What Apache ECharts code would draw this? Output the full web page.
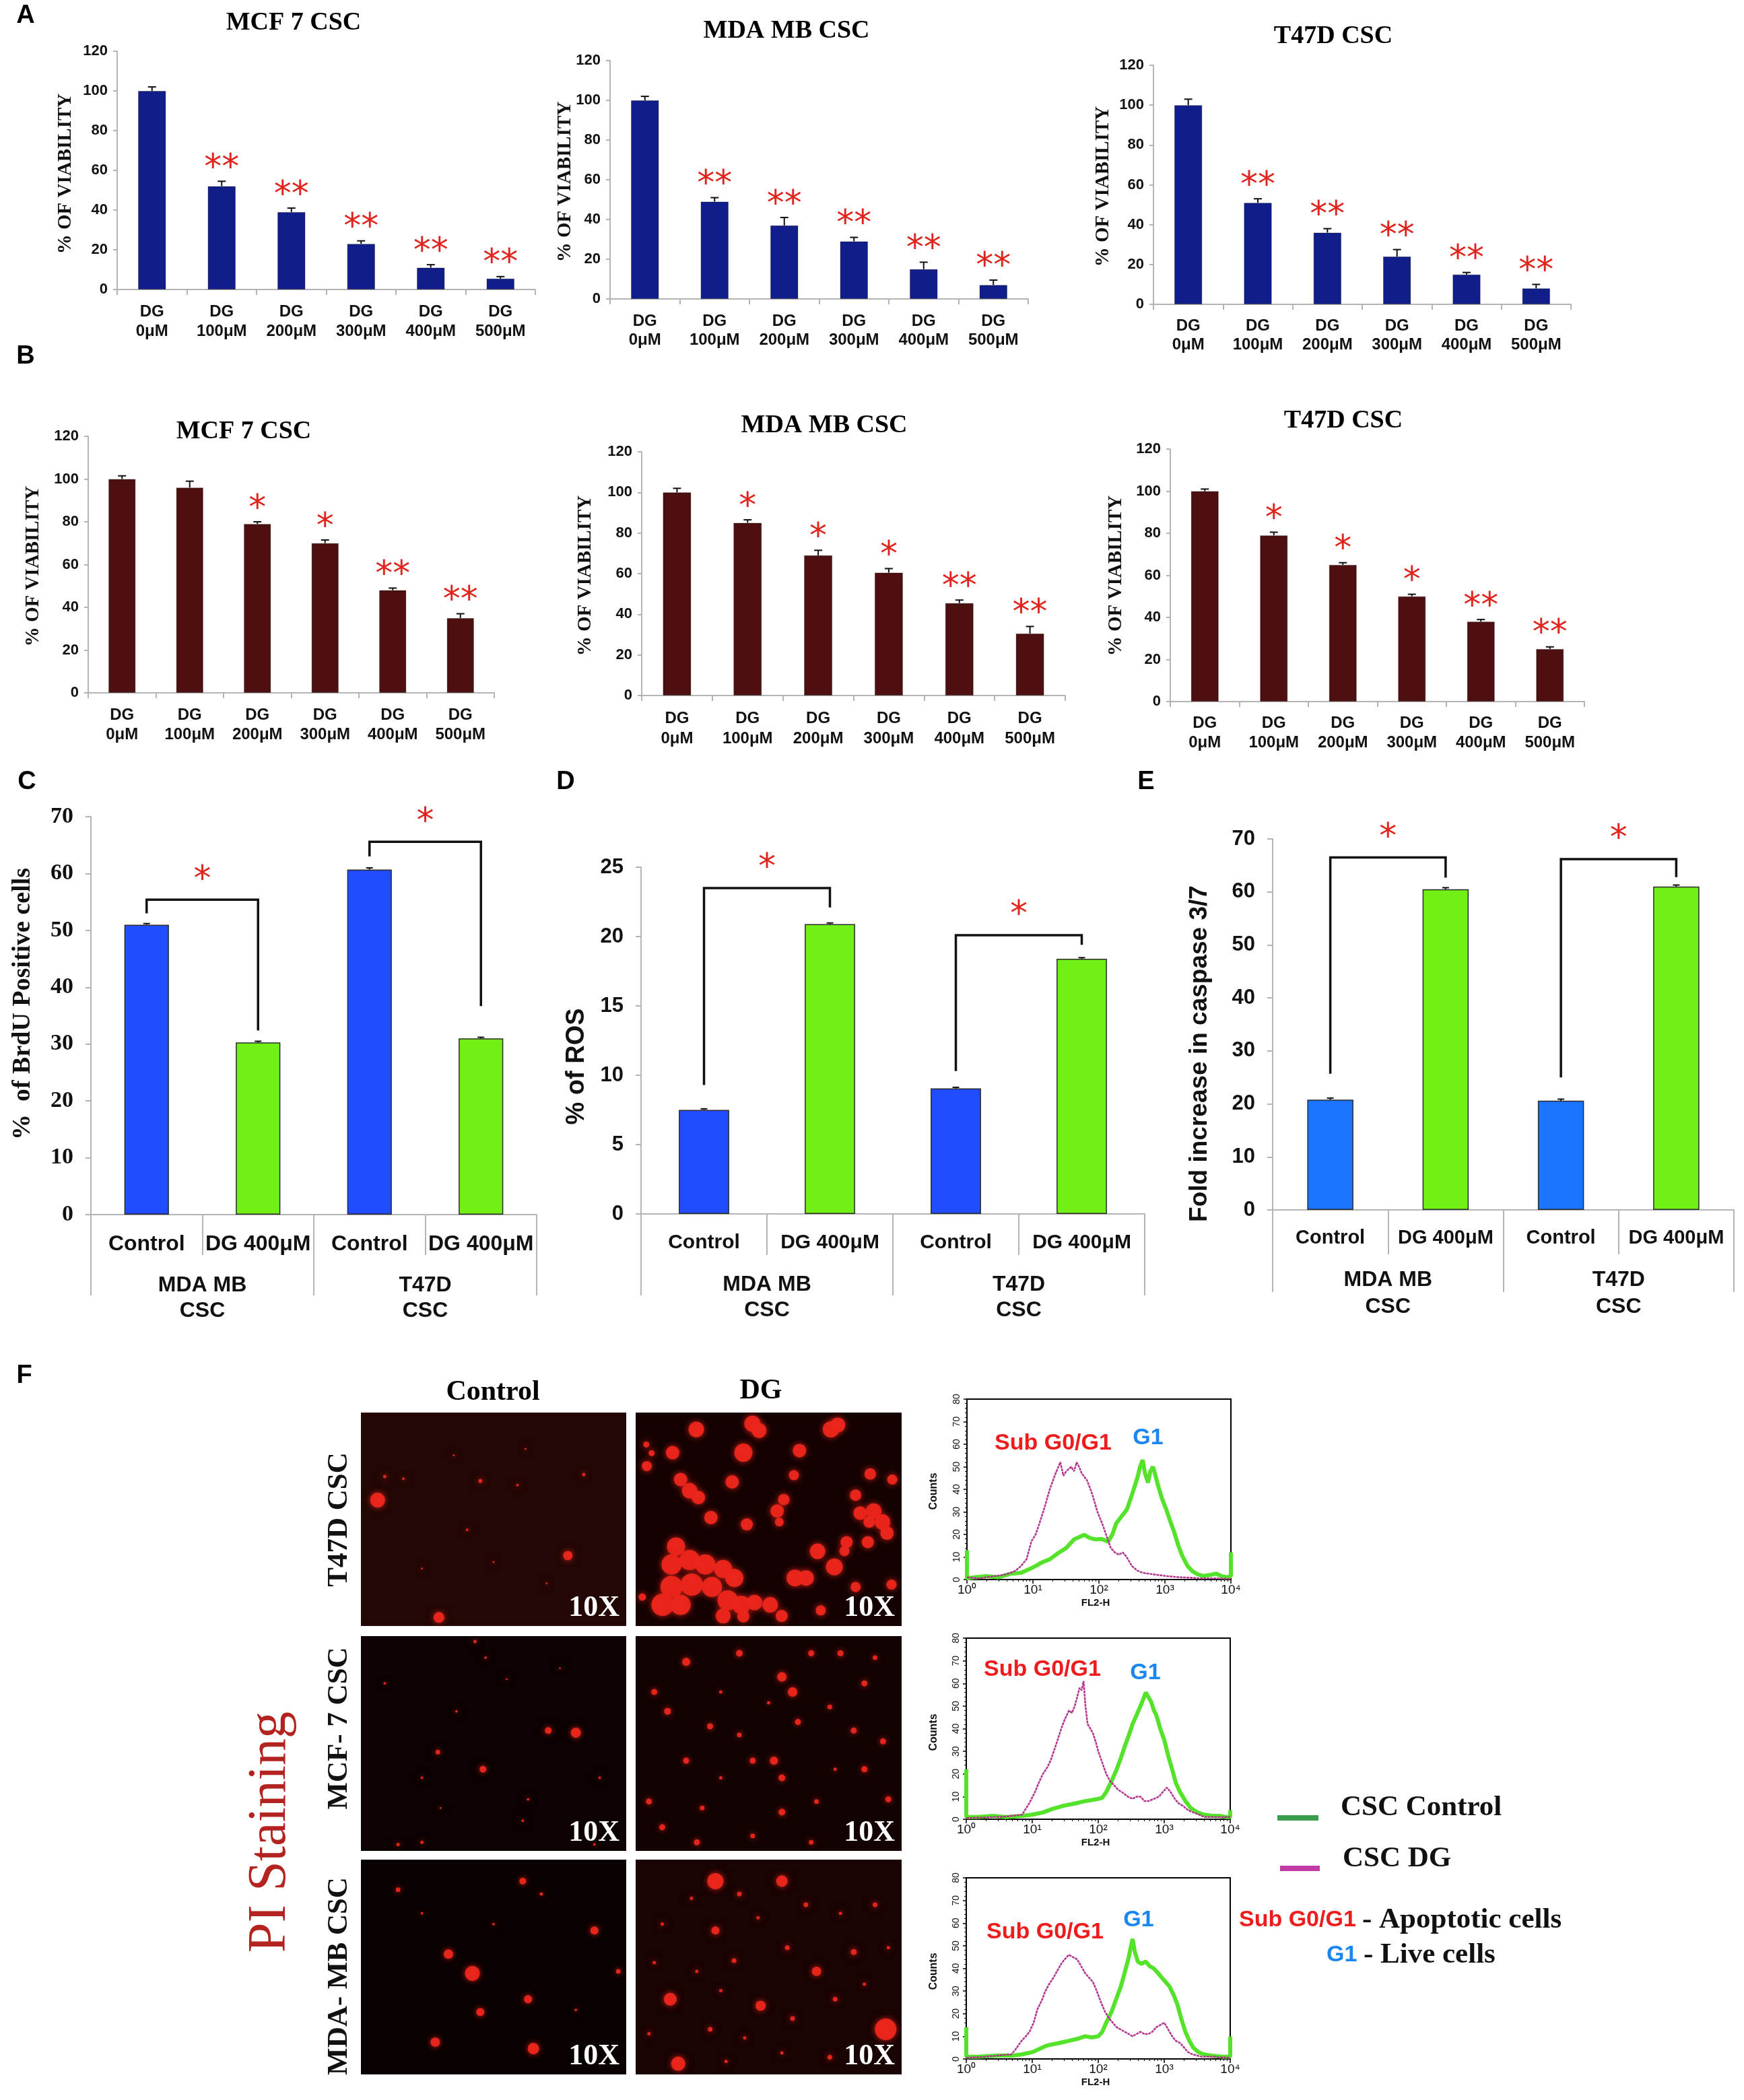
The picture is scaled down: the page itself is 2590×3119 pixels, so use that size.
<!DOCTYPE html>
<html><head><meta charset="utf-8">
<script src="https://cdn.jsdelivr.net/npm/echarts@6/dist/echarts.min.js"></script>
<style>html,body{margin:0;padding:0;background:#fff}#c{width:2590px;height:3119px}</style>
</head><body><div id="c"></div>
<script>
// ---------------- DATA ----------------
const doseCats = ['DG\n0μM','DG\n100μM','DG\n200μM','DG\n300μM','DG\n400μM','DG\n500μM'];

const aMcf7 = [100,52,39,23,11,5.5];
const aMcf7Err = [2,2.5,2,1.5,1.5,1];
const aMda = [100,49,37,29,15,7];
const aMdaErr = [2,2,4,2,3.5,2.5];
const aT47d = [100,51,36,24,15,8];
const aT47dErr = [3,2,2,3.5,1,2];
const aStars = ['','**','**','**','**','**'];

const bMcf7 = [100,96,79,70,48,35];
const bMcf7Err = [1.5,3,1,1.5,1,2];
const bMda = [100,85,69,60.5,45.5,30.5];
const bMdaErr = [2,1.5,2.5,2,1.5,3.5];
const bT47d = [100,79,65,50,38,25];
const bT47dErr = [1,1.5,1,1,1,1];
const bStarsMcf7 = ['','','*','*','**','**'];
const bStarsMda = ['','*','*','*','**','**'];
const bStarsT47d = ['','*','*','*','**','**'];

const trtCats = ['Control','DG 400μM','Control','DG 400μM'];
const lineCats = ['MDA MB\nCSC','T47D\nCSC'];
const cBrdU = [51,30.3,60.7,31];
const cBrdUErr = [0.2,0.2,0.3,0.2];
const dRos = [7.5,20.9,9.05,18.4];
const dRosErr = [0.08,0.08,0.08,0.08];
const eCasp = [20.8,60.5,20.6,61];
const eCaspErr = [0.3,0.3,0.3,0.3];
// brackets: [fromIndex, toIndex, leftEnd, topLevel, rightEnd]
const cBrackets = [[0,1,53,55.4,32.4],[2,3,63,65.6,36.7]];
const dBrackets = [[0,1,9.3,23.5,22.1],[2,3,10.3,20.1,19.4]];
const eBrackets = [[0,1,25.7,66.5,62.7],[2,3,25,66.2,62.8]];

// flow cytometry histograms [FL2-H, counts]
const t47dCtrlHist = [[1,13],[1,0.5],[1.3,1],[2,1.5],[3,1],[4.6,2.6],[6.6,3],[8.8,4.6],[11,6],[13.9,7.7],[18,9],[24,11.7],[32,14],[42,17.8],[52,19],[60,19.8],[72,18.5],[88,17.8],[110,18],[138,16.8],[160,20],[182,24.8],[220,28],[265,31],[320,38],[382,45],[420,50],[460,53],[500,47],[555,43],[600,48],[660,50],[720,46],[800,41],[900,36],[1050,31],[1200,26],[1390,20.8],[1600,15],[1820,10.7],[2200,6],[2630,3.6],[3200,2.2],[3800,1.6],[4800,2],[6000,2.6],[7200,1.5],[8700,1],[10000,1.5],[10000,12]];
const t47dDgHist = [[1,1],[1.5,0.5],[2.6,1.5],[3.5,2],[4.6,3],[5.5,4],[6.6,6],[8,9],[9.5,17],[11,20],[12.6,25],[15,32],[18,40],[22,47],[26,52],[29,46],[32,48],[38,50],[42,48],[46,52],[50,50],[55,47],[66,44],[79,38],[95,30],[115,24],[135,18],[151,14],[175,12],[200,11],[230,12],[263,10],[316,6],[380,4],[457,3],[600,2.5],[794,2],[1100,1.5],[1660,1],[2500,0.8],[3470,0.5],[6000,0.5],[10000,0.3]];
const mcfCtrlHist = [[1,22],[1,1],[1.5,1],[2.5,1.5],[4,1],[7,1.5],[10,2],[14.5,3],[20,4.5],[30,6],[45,7],[63,8],[80,8.5],[100,9],[115,9.5],[132,12],[160,17],[190,22],[220,27],[251,32],[290,37],[331,42],[380,46],[437,50],[480,53],[525,56],[575,54],[631,52],[700,48],[759,46],[870,40],[1000,35],[1150,28],[1318,22],[1500,16],[1738,12],[2100,8],[2512,5],[3200,3],[3981,2],[5500,1.5],[6918,1.5],[8500,1],[10000,1],[10000,4]];
const mcfDgHist = [[1,0.5],[2,0.8],[4,1.2],[7,2],[9,7],[11,12],[12.5,16],[14.5,20],[17,23],[19,26],[23,33],[27.5,40],[31,44],[36,48],[40,47],[44,50],[48,54],[52,58],[56,57],[60,61],[64,50],[69,42],[76,40],[83,38],[92,34],[100,30],[115,25],[132,20],[150,17],[174,15],[200,13],[229,12],[280,10],[331,9],[380,10],[437,10],[500,8],[575,8],[700,9],[832,10],[950,12],[1096,14],[1250,12],[1445,9],[1650,7],[1905,6],[2300,4],[2754,3],[3400,2],[3981,1],[6000,1],[10000,1]];
const mdaCtrlHist = [[1,14],[1,1],[1.5,1],[3,1.5],[5,1.5],[7,2],[10,3],[13,4.5],[17,6],[25,7],[36,8],[50,9],[63,10],[80,9.5],[100,10],[115,12],[132,16],[160,21],[190,27],[220,32],[251,38],[290,45],[331,53],[360,47],[398,43],[450,42],[525,43],[600,41],[692,40],[800,38],[912,36],[1050,34],[1202,32],[1400,28],[1585,24],[1800,18],[2089,12],[2400,8],[2754,5],[3300,3],[3981,2],[5000,1.5],[7600,1],[9500,1],[10000,1],[10000,10]];
const mdaDgHist = [[1,0.5],[2,1],[3,1.5],[4.8,2],[5.5,4],[6.9,8],[8,10],[9.1,12],[10.5,16],[12,22],[14,26],[15.8,30],[18,33],[21,36],[24,39],[27.5,42],[31,44],[36,46],[41,45],[48,44],[55,41],[63,38],[72,36],[83,34],[95,30],[110,25],[126,21],[145,18],[166,16],[190,14],[220,13],[251,12],[290,11],[331,10],[380,11],[437,12],[500,11],[575,11],[660,12],[759,14],[870,15],[1000,16],[1150,13],[1318,10],[1500,8],[1738,7],[2000,5],[2290,3],[2700,2],[3630,1],[5000,1],[10000,0.5]];

// PI staining micrographs: stained nuclei [x%, y%, diameter]
const t47dCtrlSpots = [[6.3,41,22],[78,67,14],[29.4,96,16],[45,32,6],[9,30,5],[16,31,4],[84,29,5],[59,34,4],[40,55,4],[23,73,3],[62,17,3],[35,20,3],[70,80,3],[50,70,3]];
const t47dDgSpots = [[22.8,7.9,23],[43.9,5.2,24],[46.4,8.4,22],[73.4,7.9,24],[76,5.8,22],[13.9,18.8,20],[40.5,18.8,27],[61.6,17.8,20],[4.2,25.1,15],[36.3,32.5,20],[59.5,29.3,15],[88.2,28.8,17],[96.5,31.4,15],[16.9,31.4,20],[20.3,36.6,23],[23.6,39.8,20],[28.3,49.2,20],[41.8,52.4,18],[53.2,46.1,20],[55.7,40.8,17],[54,51.3,13],[82.7,38.7,17],[84.4,47.1,20],[89.5,46.1,23],[92.8,51.3,23],[94.5,56.5,20],[87.8,51.3,17],[87.3,60.7,18],[79.3,60.7,18],[78.5,64.9,15],[68.4,65,23],[74.7,72.3,25],[59.9,77.5,25],[64.1,77.5,23],[82.7,81.7,15],[96.2,80.6,15],[69.6,92.7,15],[15.2,62.8,27],[13.5,71.2,30],[20.3,69.1,30],[26.2,71.2,30],[32.9,73.3,27],[37.1,77.5,27],[13.5,81.7,33],[21.1,80.6,33],[28.7,81.7,30],[10.1,90.1,33],[16.9,90.1,30],[34.6,88,30],[39.7,90.1,27],[44.7,89,23],[50.6,90.1,23],[54.9,95.3,18],[32.9,95.3,22],[40.5,95.5,18],[2.5,86.4,11],[4,15,9],[6,19,9]];
const mcfCtrlSpots = [[70.6,44,10],[81,45,15],[46,62,10],[29,54,7],[43,2.5,5],[47,10,4],[14,97,5],[23,96,5],[88,97,4],[61,86,4],[36,35,4],[9,22,4],[63,76,4],[90,66,4],[23,66,4],[55,20,3],[75,15,3],[30,80,3]];
const mcfDgSpots = [[19,12,12],[39,8,10],[55,19,14],[59,26,14],[66,8,9],[77,8,9],[86,22,9],[7,26,9],[12,35,10],[28,42,9],[39,46,7],[44,58,9],[52,58,12],[55,66,10],[19,58,9],[5,77,9],[25,80,7],[61,40,9],[73,33,7],[82,44,9],[93,49,9],[86,62,9],[95,76,9],[68,77,7],[55,82,10],[10,89,9],[23,96,9],[44,93,7],[32,66,5],[75,62,5],[50,31,5],[32,26,5],[90,10,7],[66,96,7]];
const mdaCtrlSpots = [[33,44,14],[42,53,22],[61,10,10],[88,33,12],[45,71,12],[65,88,17],[28,85,14],[63,65,12],[14,14,7],[68,16,5],[97,52,7],[23,25,4],[81,70,4],[50,30,4]];
const mdaDgSpots = [[30,10,24],[55,10,17],[13,65,19],[47,68,15],[30,33,12],[94,79,32],[16,95,21],[68,52,14],[10,30,5],[21,18,5],[39,16,7],[46,27,5],[64,21,7],[77,25,5],[90,21,7],[95,41,5],[82,43,9],[57,41,7],[37,47,7],[23,52,5],[7,48,5],[32,61,5],[59,74,7],[75,65,7],[86,58,5],[28,79,7],[41,83,5],[5,81,5],[55,90,5],[73,92,7],[34,94,5]];

// ---------------- LAYOUT / HELPERS ----------------
const SERIF = '"Liberation Serif","DejaVu Serif",serif';
const SANS = '"Liberation Sans",Arial,sans-serif';
const AXIS_GRAY = '#b4b4b4';
const STAR_RED = '#e0231c';
const STAR_FONT = '"DejaVu Sans",sans-serif';

const grids = [], xAxes = [], yAxes = [], series = [], graphics = [];

function txt(x, y, text, font, fill, align, rot, valign) {
  graphics.push({type:'text', x:x, y:y, rotation: rot||0, silent:true, z:100,
    style:{text:text, font:font, fill:fill||'#000', align:align||'center', verticalAlign:valign||'middle',
      textAlign:align||'center', textVerticalAlign:valign||'middle'}});
}

function errSeries(xi, yi, vals, errs, cap) {
  return {type:'custom', xAxisIndex:xi, yAxisIndex:yi, z:5, silent:true,
    data: vals.map((v,i)=>[i, v, v+errs[i]]),
    renderItem:(p,api)=>{
      const a = api.coord([api.value(0), api.value(1)]);
      const b = api.coord([api.value(0), api.value(2)]);
      return {type:'group', children:[
        {type:'line', shape:{x1:a[0],y1:a[1],x2:b[0],y2:b[1]}, style:{stroke:'#111', lineWidth:2}},
        {type:'line', shape:{x1:b[0]-cap,y1:b[1],x2:b[0]+cap,y2:b[1]}, style:{stroke:'#111', lineWidth:2}}
      ]};
    }};
}

function starSeries(xi, yi, vals, errs, stars, gap, size) {
  return {type:'custom', xAxisIndex:xi, yAxisIndex:yi, z:6, silent:true,
    data: vals.map((v,i)=>[i, v+errs[i]]),
    renderItem:(p,api)=>{
      const s = stars[p.dataIndex];
      if (!s) return null;
      const b = api.coord([api.value(0), api.value(1)]);
      return {type:'text', x:b[0], y:b[1]-gap, style:{text:s, font:size+'px '+STAR_FONT, fill:STAR_RED,
        align:'center', verticalAlign:'middle', textAlign:'center', textVerticalAlign:'middle'}};
    }};
}

function dosePanel(box, vals, errs, stars, color, labelMargin, lineH) {
  const gi = grids.push({left:box.l, top:box.t, width:box.w, height:box.h}) - 1;
  const xi = xAxes.push({gridIndex:gi, type:'category', data:doseCats,
    axisLine:{lineStyle:{color:AXIS_GRAY, width:2}},
    axisTick:{show:true, length:8, lineStyle:{color:AXIS_GRAY, width:2}},
    axisLabel:{interval:0, color:'#111', fontFamily:SANS, fontWeight:'bold', fontSize:24, lineHeight:lineH, margin:labelMargin}}) - 1;
  const yi = yAxes.push({gridIndex:gi, type:'value', min:0, max:120, interval:20,
    splitLine:{show:false},
    axisLine:{show:true, lineStyle:{color:AXIS_GRAY, width:2}},
    axisTick:{show:true, length:6, lineStyle:{color:AXIS_GRAY, width:2}},
    axisLabel:{color:'#111', fontFamily:SANS, fontWeight:'bold', fontSize:22, margin:14}}) - 1;
  series.push({type:'bar', xAxisIndex:xi, yAxisIndex:yi, data:vals, barWidth:'40%',
    itemStyle:{color:color, borderColor:'rgba(0,0,0,0.35)', borderWidth:1}});
  series.push(errSeries(xi, yi, vals, errs, 6));
  series.push(starSeries(xi, yi, vals, errs, stars, 18, 52));
}

function groupPanel(box, vals, errs, colors, brackets, o) {
  const gi = grids.push({left:box.l, top:box.t, width:box.w, height:box.h}) - 1;
  const xi = xAxes.push({gridIndex:gi, type:'category', data:trtCats, position:'bottom',
    axisLine:{lineStyle:{color:AXIS_GRAY, width:2}},
    axisTick:{show:true, length:o.shortTick, lineStyle:{color:AXIS_GRAY, width:2}},
    axisLabel:{interval:0, color:'#111', fontFamily:SANS, fontWeight:'bold', fontSize:o.catSize, margin:o.catMargin}}) - 1;
  xAxes.push({gridIndex:gi, type:'category', data:lineCats, position:'bottom', offset:0,
    axisLine:{show:false},
    axisTick:{show:true, length:o.longTick, lineStyle:{color:AXIS_GRAY, width:2}},
    axisLabel:{interval:0, color:'#111', fontFamily:SANS, fontWeight:'bold', fontSize:o.grpSize, lineHeight:o.grpLine, margin:o.grpMargin}});
  const yi = yAxes.push({gridIndex:gi, type:'value', min:0, max:o.yMax, interval:o.yInt,
    splitLine:{show:false},
    axisLine:{show:true, lineStyle:{color:AXIS_GRAY, width:2}},
    axisTick:{show:true, length:8, lineStyle:{color:AXIS_GRAY, width:2}},
    axisLabel:{color:'#111', fontFamily:o.tickFamily, fontWeight:'bold', fontSize:o.tickSize, margin:26}}) - 1;
  series.push({type:'bar', xAxisIndex:xi, yAxisIndex:yi, barWidth:'40%',
    data: vals.map((v,i)=>({value:v, itemStyle:{color:colors[i]}})),
    itemStyle:{borderColor:'#2b2b2b', borderWidth:1.5}});
  series.push(errSeries(xi, yi, vals, errs, 5));
  series.push({type:'custom', xAxisIndex:xi, yAxisIndex:yi, z:6, silent:true,
    data: brackets,
    renderItem:(p,api)=>{
      const f = api.value(0), t = api.value(1);
      const p1 = api.coord([f, api.value(2)]), p2 = api.coord([f, api.value(3)]);
      const p3 = api.coord([t, api.value(3)]), p4 = api.coord([t, api.value(4)]);
      return {type:'group', children:[
        {type:'polyline', shape:{points:[p1,p2,p3,p4]}, style:{stroke:'#111', lineWidth:3.5, fill:null}},
        {type:'text', x:(p2[0]+p3[0])/2, y:p2[1]-28, style:{text:'*', font:'52px '+STAR_FONT, fill:STAR_RED,
          align:'center', verticalAlign:'middle', textAlign:'center', textVerticalAlign:'middle'}}
      ]};
    }});
}

const SUP = {0:'⁰',1:'¹',2:'²',3:'³',4:'⁴'};
function histPanel(box, ctrl, dg) {
  const gi = grids.push({left:box.l, top:box.t, width:box.w, height:box.h, show:true, borderColor:'#000', borderWidth:2, backgroundColor:'rgba(0,0,0,0)'}) - 1;
  const xi = xAxes.push({gridIndex:gi, type:'log', logBase:10, min:1, max:10000,
    axisLine:{show:true, onZero:false, lineStyle:{color:'#000', width:2}},
    axisTick:{show:true, length:6, inside:false, lineStyle:{color:'#000', width:1.5}},
    minorTick:{show:true, splitNumber:9, length:3, lineStyle:{color:'#000'}},
    splitLine:{show:false},
    axisLabel:{color:'#111', fontFamily:SANS, fontSize:19, margin:6,
      formatter:(v)=>'10'+SUP[Math.round(Math.log10(v))]}}) - 1;
  const yi = yAxes.push({gridIndex:gi, type:'value', min:0, max:80, interval:10,
    splitLine:{show:false},
    axisLine:{show:true, lineStyle:{color:'#000', width:2}},
    axisTick:{show:true, length:5, lineStyle:{color:'#000', width:1.5}},
    minorTick:{show:true, splitNumber:5, length:3, lineStyle:{color:'#000'}},
    axisLabel:{color:'#111', fontFamily:SANS, fontSize:14, rotate:90, margin:8}}) - 1;
  series.push({type:'line', xAxisIndex:xi, yAxisIndex:yi, data:ctrl, showSymbol:false, silent:true,
    lineStyle:{color:'#55e22a', width:6}, z:3});
  series.push({type:'line', xAxisIndex:xi, yAxisIndex:yi, data:dg, showSymbol:false, silent:true,
    lineStyle:{color:'#b3338f', width:2.5, type:[4,1]}, z:4});
}

function imagePanel(box, spots, bg, blur) {
  const gi = grids.push({left:box.l, top:box.t, width:box.w, height:box.h, show:true, backgroundColor:bg, borderWidth:0}) - 1;
  const xi = xAxes.push({gridIndex:gi, type:'value', min:0, max:100, show:false}) - 1;
  const yi = yAxes.push({gridIndex:gi, type:'value', min:0, max:100, inverse:true, show:false}) - 1;
  series.push({type:'scatter', xAxisIndex:xi, yAxisIndex:yi, data:spots, silent:true, clip:true,
    symbolSize:(d)=>d[2], itemStyle:{color:'#ec261c', opacity:0.95, shadowBlur:blur, shadowColor:'rgba(236,38,28,0.9)'}});
}

// ---------------- PANELS ----------------
// A
dosePanel({l:174,t:76,w:621,h:354}, aMcf7, aMcf7Err, aStars, '#111d8a', 19, 29);
dosePanel({l:906,t:90,w:621,h:354}, aMda, aMdaErr, aStars, '#111d8a', 19, 28);
dosePanel({l:1713,t:97,w:620,h:355}, aT47d, aT47dErr, aStars, '#111d8a', 18, 28);
// B
dosePanel({l:131,t:648,w:603,h:381}, bMcf7, bMcf7Err, bStarsMcf7, '#4d0f0f', 19, 29);
dosePanel({l:953,t:671,w:629,h:362}, bMda, bMdaErr, bStarsMda, '#4d0f0f', 19, 30);
dosePanel({l:1738,t:667,w:615,h:375}, bT47d, bT47dErr, bStarsT47d, '#4d0f0f', 18, 29);
// C, D, E
const BLUE = '#1f4dff', BLUE2 = '#1a74ff', GREEN = '#70f014';
groupPanel({l:135,t:1213,w:662,h:591}, cBrdU, cBrdUErr, [BLUE,GREEN,BLUE,GREEN], cBrackets,
  {yMax:70,yInt:10,tickFamily:SERIF,tickSize:34,catSize:32,grpSize:32,catMargin:28,grpMargin:86,grpLine:38,shortTick:60,longTick:120});
groupPanel({l:952,t:1288,w:748,h:515}, dRos, dRosErr, [BLUE,GREEN,BLUE,GREEN], dBrackets,
  {yMax:25,yInt:5,tickFamily:SANS,tickSize:31,catSize:30,grpSize:32,catMargin:28,grpMargin:86,grpLine:38,shortTick:61,longTick:121});
groupPanel({l:1890,t:1246,w:685,h:551}, eCasp, eCaspErr, [BLUE2,GREEN,BLUE2,GREEN], eBrackets,
  {yMax:70,yInt:10,tickFamily:SANS,tickSize:31,catSize:29,grpSize:32,catMargin:27,grpMargin:84,grpLine:40,shortTick:66,longTick:122});
// F micrographs
imagePanel({l:536,t:2098,w:394,h:317}, t47dCtrlSpots, '#220705', 8);
imagePanel({l:944,t:2098,w:395,h:317}, t47dDgSpots, '#140202', 10);
imagePanel({l:536,t:2430,w:394,h:319}, mcfCtrlSpots, '#0c0202', 8);
imagePanel({l:944,t:2430,w:395,h:319}, mcfDgSpots, '#120202', 8);
imagePanel({l:536,t:2762,w:394,h:319}, mdaCtrlSpots, '#0a0101', 8);
imagePanel({l:944,t:2762,w:395,h:319}, mdaDgSpots, '#1a0303', 8);
// F histograms
histPanel({l:1436,t:2078,w:392,h:268}, t47dCtrlHist, t47dDgHist);
histPanel({l:1435,t:2433,w:392,h:269}, mcfCtrlHist, mcfDgHist);
histPanel({l:1435,t:2789,w:392,h:269}, mdaCtrlHist, mdaDgHist);

// ---------------- TEXT ----------------
const LET = 'bold 38px '+SANS;
txt(38,24,'A',LET); txt(38,530,'B',LET); txt(40,1162,'C',LET); txt(840,1162,'D',LET); txt(1702,1162,'E',LET); txt(36,2044,'F',LET);
const TT = 'bold 38px '+SERIF;
txt(436,34,'MCF 7 CSC',TT); txt(1168,46,'MDA MB CSC',TT); txt(1980,54,'T47D CSC',TT);
txt(362,641,'MCF 7 CSC',TT); txt(1224,632,'MDA MB CSC',TT); txt(1995,625,'T47D CSC',TT);
const VN = 'bold 29px '+SERIF, R90 = Math.PI/2;
txt(98,258,'% OF VIABILITY',VN,'#111','center',R90); txt(840,270,'% OF VIABILITY',VN,'#111','center',R90); txt(1639,277,'% OF VIABILITY',VN,'#111','center',R90);
txt(50,841,'% OF VIABILITY',VN,'#111','center',R90); txt(870,855,'% OF VIABILITY',VN,'#111','center',R90); txt(1658,855,'% OF VIABILITY',VN,'#111','center',R90);
txt(34,1491,'%  of BrdU Positive cells','bold 38px '+SERIF,'#111','center',R90);
txt(857,1584,'% of ROS','bold 38px '+SANS,'#111','center',R90);
txt(1782,1565,'Fold increase in caspase 3/7','bold 37px '+SANS,'#111','center',R90);
// F labels
txt(732,2068,'Control','bold 42px '+SERIF); txt(1130,2066,'DG','bold 42px '+SERIF);
txt(504,2257,'T47D CSC','bold 43px '+SERIF,'#111','center',R90);
txt(504,2567,'MCF- 7 CSC','bold 43px '+SERIF,'#111','center',R90);
txt(504,2935,'MDA- MB CSC','bold 43px '+SERIF,'#111','center',R90);
txt(402,2721,'PI Staining','80px '+SERIF,'#b3231f','center',R90);
[[930,2415],[1339,2415],[930,2749],[1339,2749],[930,3081],[1339,3081]].forEach(p=>txt(p[0]-10,p[1]-26,'10X','bold 44px '+SERIF,'#fff','right'));
// histogram annotations
const SG = 'bold 34px '+SANS, RED = '#ee1c1c', G1B = '#1a86f0';
txt(1564,2144,'Sub G0/G1',SG,RED); txt(1705,2136,'G1',SG,G1B);
txt(1548,2480,'Sub G0/G1',SG,RED); txt(1701,2485,'G1',SG,G1B);
txt(1552,2870,'Sub G0/G1',SG,RED); txt(1691,2852,'G1',SG,G1B);
[2215,2573,2928].forEach(y=>txt(1387,y,'Counts','bold 16px '+SANS,'#111','center',R90));
[2381,2737,3093].forEach(y=>txt(1627,y,'FL2-H','bold 15px '+SANS,'#111'));
// legend
graphics.push({type:'line', shape:{x1:1897,y1:2700,x2:1958,y2:2700}, style:{stroke:'#3c9c4e', lineWidth:8}, silent:true});
graphics.push({type:'line', shape:{x1:1901,y1:2775,x2:1960,y2:2775}, style:{stroke:'#c23aa6', lineWidth:8}, silent:true});
const LG = 'bold 43px '+SERIF;
txt(1991,2685,'CSC Control',LG,'#111','left');
txt(1994,2761,'CSC DG',LG,'#111','left');
txt(1840,2852,'Sub G0/G1',SG,RED,'left'); txt(2023,2852,'- Apoptotic cells',LG,'#111','left');
txt(1970,2904,'G1',SG,G1B,'left'); txt(2025,2904,'- Live cells',LG,'#111','left');

// ---------------- CHART ----------------
const chart = echarts.init(document.getElementById('c'), null, {renderer:'canvas', width:2590, height:3119});
chart.setOption({animation:false, backgroundColor:'#fff', grid:grids, xAxis:xAxes, yAxis:yAxes, series:series, graphic:graphics});
</script></body></html>
